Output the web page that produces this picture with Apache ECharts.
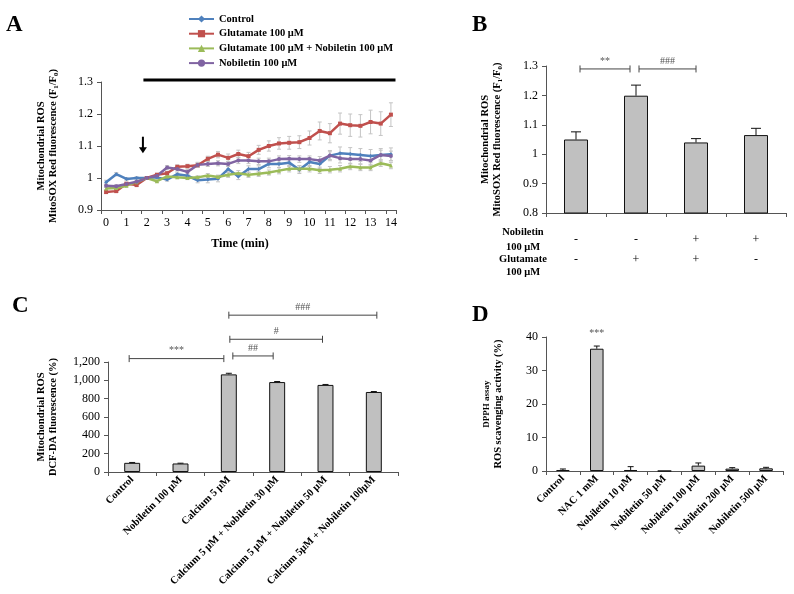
<!DOCTYPE html>
<html><head><meta charset="utf-8">
<script src="https://cdn.jsdelivr.net/npm/echarts@6/dist/echarts.min.js"></script>
<style>html,body{margin:0;padding:0;background:#fff}#c{width:794px;height:594px}</style>
</head><body><div id="c"></div>
<script>
// ---------- Panel A data ----------
const timeCats = ['0','0.5','1','1.5','2','2.5','3','3.5','4','4.5','5','5.5','6','6.5','7','7.5','8','8.5','9','9.5','10','10.5','11','11.5','12','12.5','13','13.5','14'];
const seriesNamesA = ['Control','Glutamate 100 μM','Glutamate 100 μM + Nobiletin 100 μM','Nobiletin 100 μM'];
const controlVals   = [0.987,1.012,0.997,1.000,1.000,1.002,0.995,1.012,1.007,0.993,0.995,0.998,1.028,1.005,1.028,1.028,1.044,1.044,1.048,1.026,1.050,1.044,1.070,1.077,1.075,1.072,1.069,1.072,1.074];
const glutamateVals = [0.956,0.959,0.982,0.978,1.000,1.010,1.015,1.035,1.037,1.040,1.060,1.073,1.063,1.075,1.068,1.088,1.100,1.108,1.110,1.112,1.125,1.147,1.140,1.170,1.165,1.163,1.175,1.170,1.198];
const gluNobVals    = [0.967,0.969,0.976,0.987,1.000,0.990,1.005,1.002,1.000,1.002,1.008,1.003,1.010,1.015,1.010,1.013,1.017,1.023,1.029,1.029,1.029,1.024,1.026,1.029,1.036,1.033,1.033,1.046,1.039];
const nobVals       = [0.976,0.974,0.981,0.988,1.000,1.007,1.033,1.028,1.019,1.041,1.044,1.046,1.044,1.055,1.055,1.052,1.052,1.059,1.060,1.059,1.059,1.055,1.070,1.062,1.059,1.059,1.055,1.072,1.069];
const controlErr    = [0.006,0.005,0.004,0.004,0.002,0.004,0.005,0.006,0.006,0.008,0.010,0.010,0.010,0.010,0.010,0.010,0.012,0.012,0.012,0.012,0.014,0.014,0.016,0.020,0.020,0.020,0.020,0.020,0.020];
const glutamateErr  = [0.004,0.004,0.005,0.005,0.002,0.005,0.006,0.006,0.006,0.007,0.008,0.010,0.012,0.012,0.012,0.014,0.016,0.018,0.020,0.020,0.022,0.028,0.030,0.033,0.035,0.035,0.037,0.037,0.037];
const gluNobErr     = [0.004,0.004,0.004,0.004,0.002,0.004,0.004,0.004,0.005,0.005,0.006,0.006,0.008,0.008,0.008,0.008,0.008,0.010,0.010,0.010,0.010,0.010,0.010,0.010,0.010,0.010,0.010,0.010,0.010];
const nobErr        = [0.005,0.005,0.005,0.005,0.002,0.005,0.006,0.006,0.008,0.008,0.008,0.008,0.008,0.010,0.010,0.010,0.010,0.010,0.010,0.010,0.010,0.012,0.012,0.015,0.015,0.015,0.015,0.015,0.015];

// ---------- Panel B data ----------
const nobiletinSigns = ['-','-','+','+'];
const glutamateSigns = ['-','+','+','-'];
const bVals = [1.050,1.199,1.040,1.065];
const bErr  = [0.026,0.036,0.013,0.023];

// ---------- Panel C data ----------
const cCats = ['Control','Nobiletin 100 μM','Calcium 5 μM','Calcium 5 μM + Nobiletin 30 μM','Calcium 5 μM + Nobiletin 50 μM','Calcium 5μM + Nobiletin 100μM'];
const cVals = [100,93,1065,981,950,873];
const cErr  = [4,3,12,6,5,5];

// ---------- Panel D data ----------
const dCats = ['Control','NAC 1 mM','Nobiletin 10 μM','Nobiletin 50 μM','Nobiletin 100 μM','Nobiletin 200 μM','Nobiletin 500 μM'];
const dVals = [0.3,36.5,0.3,0,1.6,0.7,0.8];
const dErr  = [0.3,0.8,1.0,0,0.8,0.3,0.3];

const F = '"Liberation Serif","Times New Roman",serif';
const AX = '#555';
const chart = echarts.init(document.getElementById('c'));

function axisBase(){
  return {
    axisLine:{show:true,lineStyle:{color:AX,width:1}},
    axisTick:{show:true,length:4,lineStyle:{color:AX}},
    splitLine:{show:false},
    axisLabel:{fontFamily:F,fontSize:12,color:'#000'}
  };
}
function errRender(color, capW, both){
  return function(params, api){
    const x = api.value(0), v = api.value(1), e = api.value(2);
    if(!e) return null;
    const t = api.coord([x, v+e]);
    const b = api.coord([x, both ? v-e : v]);
    const st = {stroke:color,lineWidth:1};
    const ch = [
      {type:'line',shape:{x1:t[0],y1:t[1],x2:b[0],y2:b[1]},style:st},
      {type:'line',shape:{x1:t[0]-capW/2,y1:t[1],x2:t[0]+capW/2,y2:t[1]},style:st}
    ];
    if(both) ch.push({type:'line',shape:{x1:b[0]-capW/2,y1:b[1],x2:b[0]+capW/2,y2:b[1]},style:st});
    return {type:'group',children:ch};
  };
}
const colorsA = ['#4f81bd','#c0504d','#9bbb59','#8064a2'];
const symbolsA = ['diamond','rect','triangle','circle'];
const valsA = [controlVals,glutamateVals,gluNobVals,nobVals];
const errsA = [controlErr,glutamateErr,gluNobErr,nobErr];

const series = [];
valsA.forEach((vals,k)=>{
  series.push({type:'custom',xAxisIndex:0,yAxisIndex:0,z:1,silent:true,
    renderItem:errRender('#c4c4c4',4,true),encode:{x:0,y:1},
    data:vals.map((v,i)=>[i,v,errsA[k][i]])});
});
valsA.forEach((vals,k)=>{
  series.push({type:'line',name:seriesNamesA[k],xAxisIndex:0,yAxisIndex:0,z:3,
    data:vals,symbol:symbolsA[k],symbolSize:4,showSymbol:true,
    itemStyle:{color:colorsA[k]},lineStyle:{color:colorsA[k],width:2.5}});
});
const barStyle = {color:'#c0c0c0',borderColor:'#111',borderWidth:1};
series.push({type:'bar',xAxisIndex:1,yAxisIndex:1,data:bVals,barWidth:'40%',itemStyle:barStyle});
series.push({type:'custom',xAxisIndex:1,yAxisIndex:1,z:4,renderItem:errRender('#111',10,false),encode:{x:0,y:1},data:bVals.map((v,i)=>[i,v,bErr[i]])});
series.push({type:'bar',xAxisIndex:2,yAxisIndex:2,data:cVals,barWidth:'33%',itemStyle:barStyle});
series.push({type:'custom',xAxisIndex:2,yAxisIndex:2,z:4,renderItem:errRender('#111',6,false),encode:{x:0,y:1},data:cVals.map((v,i)=>[i,v,cErr[i]])});
series.push({type:'bar',xAxisIndex:3,yAxisIndex:3,data:dVals,barWidth:'40%',itemStyle:barStyle});
series.push({type:'custom',xAxisIndex:3,yAxisIndex:3,z:4,renderItem:errRender('#111',6,false),encode:{x:0,y:1},data:dVals.map((v,i)=>[i,v,dErr[i]])});

const nameStyle = (gap)=>({
  nameLocation:'middle',nameRotate:90,nameGap:gap,
  nameTextStyle:{fontFamily:F,fontWeight:'bold',fontSize:10.5,color:'#000',lineHeight:12.5,
    rich:{s:{fontFamily:F,fontWeight:'bold',fontSize:7,verticalAlign:'bottom',lineHeight:12.5,color:'#000'},
          sm:{fontFamily:F,fontWeight:'bold',fontSize:9,lineHeight:12.5,color:'#000'}}}
});

const option = {
  animation:false,
  backgroundColor:'#fff',
  grid:[
    {left:101,top:82,width:295,height:128,outerBoundsMode:'none'},
    {left:546,top:66,width:240,height:147,outerBoundsMode:'none'},
    {left:108,top:362,width:290,height:110,outerBoundsMode:'none'},
    {left:546,top:337,width:237,height:134,outerBoundsMode:'none'}
  ],
  legend:{data:seriesNamesA,orient:'vertical',left:183,top:8,itemWidth:25,itemHeight:9,itemGap:2.7,
    textStyle:{fontFamily:F,fontWeight:'bold',fontSize:10.5,color:'#000',lineHeight:12}},
  xAxis:[
    Object.assign(axisBase(),{type:'category',gridIndex:0,data:timeCats,boundaryGap:true,
      axisLabel:{fontFamily:F,fontSize:12,color:'#000',interval:1,margin:7},
      name:'Time (min)',nameLocation:'middle',nameGap:28,
      nameTextStyle:{fontFamily:F,fontWeight:'bold',fontSize:12,color:'#000',padding:[0,17,0,0]}}),
    Object.assign(axisBase(),{type:'category',gridIndex:1,
      data:nobiletinSigns.map((n,i)=>n+'\n'+glutamateSigns[i]),
      axisLabel:{fontFamily:F,fontSize:12,color:'#000',lineHeight:20,margin:17,interval:0}}),
    Object.assign(axisBase(),{type:'category',gridIndex:2,data:cCats,
      axisLabel:{fontFamily:F,fontSize:10.5,fontWeight:'bold',color:'#000',rotate:45,interval:0,margin:6}}),
    Object.assign(axisBase(),{type:'category',gridIndex:3,data:dCats,
      axisLabel:{fontFamily:F,fontSize:10.5,fontWeight:'bold',color:'#000',rotate:45,interval:0,margin:6}})
  ],
  yAxis:[
    Object.assign(axisBase(),{type:'value',gridIndex:0,min:0.9,max:1.3,interval:0.1,
      name:'Mitochondrial ROS\nMitoSOX Red fluorescence (F{s|1}/F{s|0})'},nameStyle(41)),
    Object.assign(axisBase(),{type:'value',gridIndex:1,min:0.8,max:1.3,interval:0.1,
      name:'Mitochondrial ROS\nMitoSOX Red fluorescence (F{s|1}/F{s|0})'},nameStyle(42)),
    Object.assign(axisBase(),{type:'value',gridIndex:2,min:0,max:1200,interval:200,
      axisLabel:{fontFamily:F,fontSize:12,color:'#000',formatter:v=>v.toLocaleString('en-US')},
      name:'Mitochondrial ROS\nDCF-DA fluorescence (%)'},nameStyle(48)),
    Object.assign(axisBase(),{type:'value',gridIndex:3,min:0,max:40,interval:10,
      name:'{sm|DPPH assay}\nROS scavenging activity (%)'},nameStyle(41))
  ],
  series:series
};
chart.setOption(option);

// ---------- annotations positioned through the axes ----------
const px = (ai, xv, yv) => chart.convertToPixel({xAxisIndex:ai,yAxisIndex:ai},[xv,yv]);
const G = [];
const LS = {stroke:'#444',lineWidth:1};
function bracket(x1,x2,y,label){
  G.push({type:'line',shape:{x1:x1,y1:y,x2:x2,y2:y},style:LS,silent:true});
  G.push({type:'line',shape:{x1:x1,y1:y-3.5,x2:x1,y2:y+3.5},style:LS,silent:true});
  G.push({type:'line',shape:{x1:x2,y1:y-3.5,x2:x2,y2:y+3.5},style:LS,silent:true});
  G.push({type:'text',x:(x1+x2)/2,y:y-3,style:{text:label,fontFamily:F,fontSize:10,fill:'#555',align:'center',verticalAlign:'bottom'},silent:true});
}
function panelLabel(t,x,y){
  G.push({type:'text',x:x,y:y,style:{text:t,fontFamily:F,fontWeight:'bold',fontSize:23,fill:'#000',verticalAlign:'middle'},silent:true});
}
panelLabel('A',6,25); panelLabel('B',472,25); panelLabel('C',12,306); panelLabel('D',472,315);

// Panel A: treatment bar and arrow
const a3 = px(0,3,1.306), a4 = px(0,4,1.306), a27 = px(0,27,1.306), a28 = px(0,28,1.306);
const stepA = a4[0]-a3[0];
G.push({type:'line',shape:{x1:a3[0]+0.67*stepA,y1:a3[1],x2:a28[0]+0.45*(a28[0]-a27[0]),y2:a28[1]},style:{stroke:'#000',lineWidth:3},silent:true});
const arX = a3[0]+0.62*stepA;
const arTop = px(0,3,1.129)[1], arTip = px(0,3,1.077)[1];
G.push({type:'line',shape:{x1:arX,y1:arTop,x2:arX,y2:arTip-5},style:{stroke:'#000',lineWidth:2},silent:true});
G.push({type:'polygon',shape:{points:[[arX-4,arTip-6],[arX+4,arTip-6],[arX,arTip]]},style:{fill:'#000'},silent:true});

// Panel B brackets and row titles
const b0 = px(1,0,1.29), b1 = px(1,1,1.29), b2 = px(1,2,1.29);
bracket(b0[0]+4,b1[0]-6,b0[1],'**');
bracket(b1[0]+3,b2[0],b0[1],'###');
const bAx = px(1,0,0.8);
[['Nobiletin',19],['100 μM',34],['Glutamate',46],['100 μM',59]].forEach(([t,dy])=>{
  G.push({type:'text',x:523,y:bAx[1]+dy,style:{text:t,fontFamily:F,fontWeight:'bold',fontSize:10.5,fill:'#000',align:'center',verticalAlign:'middle'},silent:true});
});

// Panel C brackets
const cx = i => px(2,i,0)[0];
const cy = v => px(2,0,v)[1];
bracket(cx(0)-3,cx(2)-5,cy(1237),'***');
bracket(cx(2)+4,cx(3)-4,cy(1266),'##');
bracket(cx(2)+1,cx(4)-3,cy(1448),'#');
bracket(cx(2),cx(5)+3,cy(1711),'###');

// Panel D significance
const dS = px(3,1,41);
G.push({type:'text',x:dS[0],y:dS[1],style:{text:'***',fontFamily:F,fontSize:10,fill:'#555',align:'center',verticalAlign:'middle'},silent:true});

chart.setOption({graphic:G});
</script></body></html>
